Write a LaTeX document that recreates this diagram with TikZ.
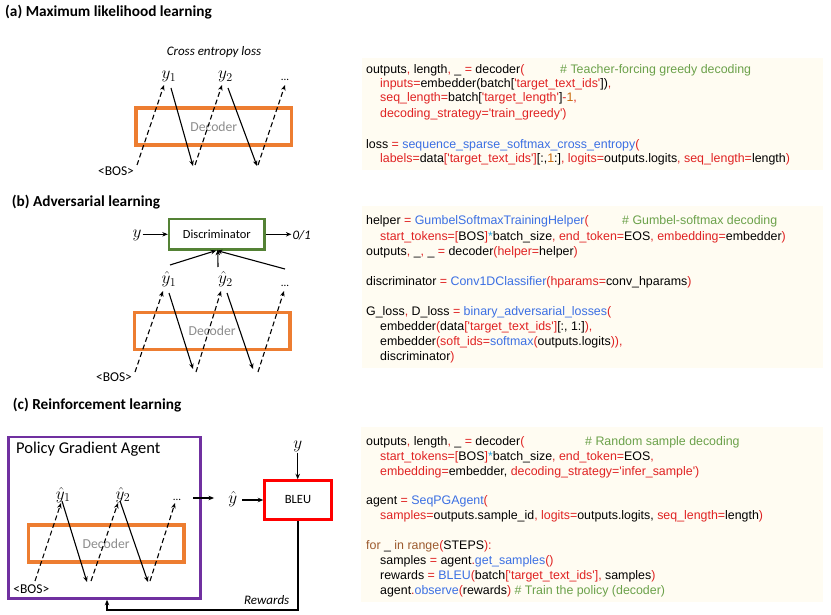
\documentclass[tikz,border=0pt]{standalone}
\usepackage{fontspec}
\setmainfont{Carlito}
\newfontfamily\codefont{Liberation Sans}
\usepackage{tikz}
\usetikzlibrary{arrows.meta,calc}
\usepackage{xcolor}
\definecolor{dorange}{HTML}{ED7D31}
\definecolor{dgreen}{HTML}{548235}
\definecolor{dpurple}{HTML}{7030A0}
\definecolor{dred}{HTML}{FF0000}
\definecolor{codebg}{HTML}{FFFCF2}
\definecolor{cred}{HTML}{E02222}
\definecolor{cblue}{HTML}{3B6FE3}
\definecolor{cgreen}{HTML}{6BA14A}
\definecolor{cbrown}{HTML}{9C5A2E}
\definecolor{corange}{HTML}{C8680A}
\definecolor{ccyan}{HTML}{2EA8E0}
\newcommand{\rtext}[1]{\textcolor{cred}{#1}}
\newcommand{\btext}[1]{\textcolor{cblue}{#1}}
\newcommand{\gtext}[1]{\textcolor{cgreen}{#1}}
\newcommand{\otext}[1]{\textcolor{corange}{#1}}
\newcommand{\ctext}[1]{\textcolor{ccyan}{#1}}
\newcommand{\ntext}[1]{\textcolor{cbrown}{#1}}

\begin{document}
\begin{tikzpicture}[x=1pt, y=-1pt,
  feed/.style={dash pattern=on 5pt off 3pt, line width=1.1pt, -{Stealth[length=5.5pt,width=4.5pt]}},
  emit/.style={line width=1.1pt, -{Stealth[length=5.5pt,width=4.5pt]}},
  decbox/.style={draw=dorange, line width=3.5pt, minimum width=155.5pt, minimum height=37pt,
    text=black!45, font=\fontsize{13.7}{16}\selectfont},
  tok/.style={anchor=base, inner sep=1pt, font=\fontsize{18}{21}\selectfont},
  dots/.style={anchor=base, inner sep=1pt, font=\fontsize{11}{13}\selectfont},
  bos/.style={inner sep=1pt, font=\fontsize{13.5}{16}\selectfont},
  note/.style={inner sep=1pt, font=\itshape\fontsize{13}{15}\selectfont},
  ttl/.style={anchor=west, inner sep=0pt, font=\bfseries\fontsize{15.3}{18}\selectfont},
  code/.style={anchor=base west, inner sep=0pt, font=\codefont\fontsize{12.4}{14}\selectfont}]
\useasboundingbox (0,0) rectangle (831,615);

% ---------------- (a) maximum likelihood
\node[ttl] (ttlA) at (5,12) {(a) Maximum likelihood learning};
\node[note] (ceLoss) at (214,52) {Cross entropy loss};
\node[tok] (yA1) at (169,78.5) {$y_1$};
\node[tok] (yA2) at (225.5,78.5) {$y_2$};
\node[dots] (yA3) at (285,81) {...};
\node[decbox] (decA) at (213.8,126.5) {Decoder};
\node[bos] (bosA) at (116,171) {<BOS>};
\foreach \k/\xs/\xe in {0/137/164, 1/195/222, 2/258/285}{
  \coordinate (aIn\k) at (\xs,165);
  \coordinate (aOut\k) at (\xe,85);
  \draw[feed] (aIn\k) -- (aOut\k);}
\foreach \k/\xs/\xe in {0/171/193, 1/228/257}{
  \coordinate (aTop\k) at (\xs,88);
  \coordinate (aBot\k) at (\xe,166);
  \draw[emit] (aTop\k) -- (aBot\k);}

% code (a)
\fill[codebg] (362,58) rectangle (823,170);
\node[code] (cA1) at (366,73.3) {outputs\rtext{,} length\rtext{,} \_ \rtext{=} decoder\rtext{(}};
\node[code, text=cgreen] (cA1c) at (560,73.3) {\# Teacher-forcing greedy decoding};
\node[code] (cA2) at (380,87.5) {\rtext{inputs=}embedder(batch[\rtext{'target\_text\_ids'}])\rtext{,}};
\node[code] (cA3) at (380,101.8) {\rtext{seq\_length=}batch[\rtext{'target\_length'}]\rtext{-}\otext{1}\rtext{,}};
\node[code] (cA4) at (380,117.2) {\rtext{decoding\_strategy='train\_greedy')}};
\node[code] (cA5) at (366,148.3) {loss \rtext{=} \btext{sequence\_sparse\_softmax\_cross\_entropy}\rtext{(}};
\node[code] (cA6) at (380,162.3) {\rtext{labels=}data\rtext{['target\_text\_ids']}[:,\otext{1}:]\rtext{, logits=}outputs.logits\rtext{, seq\_length=}length\rtext{)}};

% ---------------- (b) adversarial
\node[ttl] (ttlB) at (11.7,202) {(b) Adversarial learning};
\node[draw=dgreen, line width=2.5pt, minimum width=95.5pt, minimum height=30.5pt,
  font=\fontsize{12.4}{15}\selectfont] (disc) at (216.8,234.3) {Discriminator};
\node[tok] (yB) at (137,237.5) {$y$};
\node[note] (outB) at (301.7,235) {0/1};
\draw[emit] (yB.east |- disc.west) -- (disc.west);
\draw[emit] (disc.east) -- (outB.west |- disc.east);
\node[tok] (yB1) at (169,283.5) {$\hat{y}_1$};
\node[tok] (yB2) at (225.5,283.5) {$\hat{y}_2$};
\node[dots] (yB3) at (285,287) {...};
\coordinate (bUp1) at (170,265);
\coordinate (bUp2) at (218,267);
\coordinate (bUp3) at (285,269);
\draw[emit, shorten >=-1pt] (bUp1) -- ([xshift=-1.5pt]disc.south);
\draw[emit, shorten >=-1pt] (bUp2) -- ([xshift=1pt]disc.south);
\draw[emit, shorten >=-1pt] (bUp3) -- ([xshift=1pt]disc.south);
\node[decbox] (decB) at (212.2,330.9) {Decoder};
\node[bos] (bosB) at (114,377) {<BOS>};
\foreach \k/\xs/\xe in {0/135/163, 1/196/221, 2/258/284}{
  \coordinate (bIn\k) at (\xs,372);
  \coordinate (bOut\k) at (\xe,291);
  \draw[feed] (bIn\k) -- (bOut\k);}
\foreach \k/\xs/\xe in {0/169/193, 1/227/253}{
  \coordinate (bTop\k) at (\xs,293);
  \coordinate (bBot\k) at (\xe,369);
  \draw[emit] (bTop\k) -- (bBot\k);}

% code (b)
\fill[codebg] (362,206) rectangle (823,368);
\node[code] (cB1) at (366,225) {helper \rtext{=} \btext{GumbelSoftmaxTrainingHelper}\rtext{(}};
\node[code, text=cgreen] (cB1c) at (622,225) {\# Gumbel-softmax decoding};
\node[code] (cB2) at (380,240.5) {\rtext{start\_tokens=[}BOS\rtext{]}\ctext{*}batch\_size\rtext{, end\_token=}EOS\rtext{, embedding=}embedder\rtext{)}};
\node[code] (cB3) at (366,255) {outputs\rtext{,} \_\rtext{,} \_ \rtext{=} decoder\rtext{(helper=}helper\rtext{)}};
\node[code] (cB4) at (366,285) {discriminator \rtext{=} \btext{Conv1DClassifier}\rtext{(hparams=}conv\_hparams\rtext{)}};
\node[code] (cB5) at (366,315.5) {G\_loss\rtext{,} D\_loss \rtext{=} \btext{binary\_adversarial\_losses}\rtext{(}};
\node[code] (cB6) at (380,330.5) {embedder\rtext{(}data\rtext{['target\_text\_ids']}[:, 1:]\rtext{),}};
\node[code] (cB7) at (380,345.5) {embedder\rtext{(soft\_ids=}\btext{softmax}\rtext{(}outputs.logits\rtext{)),}};
\node[code] (cB8) at (380,360) {discriminator\rtext{)}};

% ---------------- (c) reinforcement
\node[ttl] (ttlC) at (12.7,405.5) {(c) Reinforcement learning};
\node[draw=dpurple, line width=2.5pt, minimum width=192pt, minimum height=161.5pt] (agent) at (104.5,517.8) {};
\node[anchor=west, inner sep=0pt, font=\fontsize{16.5}{19}\selectfont] (agentTxt) at (16,449) {Policy Gradient Agent};
\node[tok] (yC1) at (63.3,499) {$\hat{y}_1$};
\node[tok] (yC2) at (123,499) {$\hat{y}_2$};
\node[dots] (yC3) at (177,500) {...};
\node[decbox] (decC) at (106.2,543.6) {Decoder};
\node[bos] (bosC) at (31.3,589) {<BOS>};
\foreach \k/\xs/\xe in {0/35/61, 1/91/118, 2/150/175}{
  \coordinate (cIn\k) at (\xs,581);
  \coordinate (cOut\k) at (\xe,503);
  \draw[feed] (cIn\k) -- (cOut\k);}
\foreach \k/\xs/\xe in {0/62/87, 1/120/148}{
  \coordinate (cTop\k) at (\xs,501);
  \coordinate (cBot\k) at (\xe,582);
  \draw[emit] (cTop\k) -- (cBot\k);}
\node[tok] (yhat) at (232.7,503) {$\hat{y}$};
\node[draw=dred, line width=2.5pt, minimum width=67pt, minimum height=39pt,
  font=\fontsize{12.6}{15}\selectfont] (bleu) at (298,500) {BLEU};
\node[tok] (yC) at (297.7,448) {$y$};
\coordinate (pgOut) at (193,498);
\draw[emit] (pgOut) -- ([xshift=-13pt]yhat.west |- pgOut);
\draw[emit] ([xshift=4pt]yhat.east |- bleu.west) -- (bleu.west);
\draw[emit] (yC.south) -- (yC.south |- bleu.north);
\coordinate (rwdTurn) at (107,610);
\draw[emit] (bleu.south) |- (rwdTurn) -- (rwdTurn |- agent.south);
\node[note] (rwd) at (266.7,600) {Rewards};

% code (c)
\fill[codebg] (361,427) rectangle (823,602);
\node[code] (cC1) at (366,445) {outputs\rtext{,} length\rtext{,} \_ \rtext{=} decoder\rtext{(}};
\node[code, text=cgreen] (cC1c) at (585,445) {\# Random sample decoding};
\node[code] (cC2) at (380,460) {\rtext{start\_tokens=[}BOS\rtext{]}\ctext{*}batch\_size\rtext{, end\_token=}EOS\rtext{,}};
\node[code] (cC3) at (380,475) {\rtext{embedding=}embedder, \rtext{decoding\_strategy='infer\_sample')}};
\node[code] (cC4) at (366,504) {agent \rtext{=} \btext{SeqPGAgent}\rtext{(}};
\node[code] (cC5) at (380,519) {\rtext{samples=}outputs.sample\_id\rtext{, logits=}outputs.logits, \rtext{seq\_length=}length\rtext{)}};
\node[code] (cC6) at (366,549) {\ntext{for} \_ \ntext{in range}\rtext{(}STEPS\rtext{):}};
\node[code] (cC7) at (380,564) {samples \rtext{=} agent\rtext{.}\btext{get\_samples}\rtext{()}};
\node[code] (cC8) at (380,579) {rewards \rtext{=} \btext{BLEU}\rtext{(}batch\rtext{['target\_text\_ids'],} samples\rtext{)}};
\node[code] (cC9) at (380,594) {agent\rtext{.}\btext{observe}\rtext{(}rewards\rtext{)} \gtext{\# Train the policy (decoder)}};
\end{tikzpicture}
\end{document}
